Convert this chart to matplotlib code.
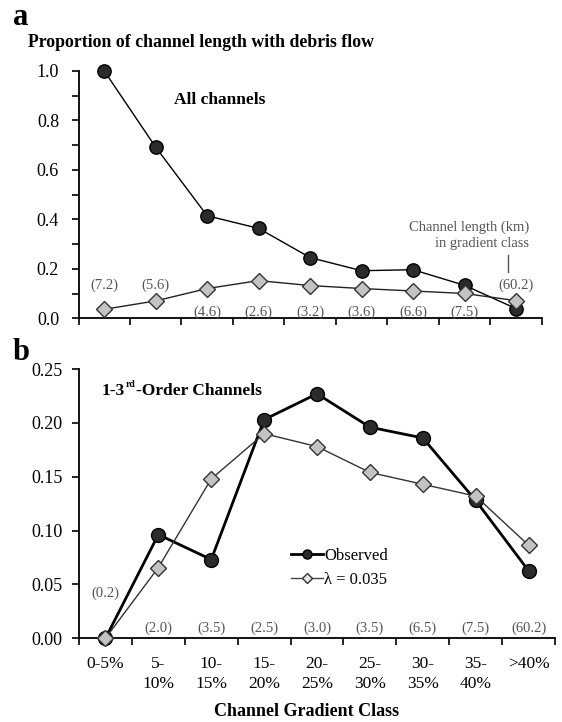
import matplotlib
matplotlib.use("Agg")
import matplotlib.pyplot as plt
from matplotlib.lines import Line2D
from matplotlib.transforms import offset_copy
import numpy as np

plt.rcParams['font.family'] = ['Liberation Serif', 'DejaVu Serif']

# gradient classes
classes = ["0-5%", "5-\n10%", "10-\n15%", "15-\n20%", "20-\n25%",
           "25-\n30%", "30-\n35%", "35-\n40%", ">40%"]

# panel a - all channels
obs_all = [1.0, 0.692, 0.415, 0.364, 0.246, 0.193, 0.197, 0.134, 0.040]
mod_all = [0.037, 0.071, 0.121, 0.153, 0.133, 0.121, 0.111, 0.101, 0.072]
len_all = ["(7.2)", "(5.6)", "(4.6)", "(2.6)", "(3.2)", "(3.6)", "(6.6)", "(7.5)", "(60.2)"]

# panel b - 1-3rd order channels
obs_low = [0.0, 0.0963, 0.0731, 0.203, 0.227, 0.196, 0.186, 0.128, 0.0627]
mod_low = [0.0, 0.0657, 0.148, 0.190, 0.178, 0.154, 0.143, 0.132, 0.0864]
len_low = ["(0.2)", "(2.0)", "(3.5)", "(2.5)", "(3.0)", "(3.5)", "(6.5)", "(7.5)", "(60.2)"]

x = np.arange(len(classes)) + 0.5
gray_txt = '#555555'
dark = '#2b2b2b'
light = '#c3c3c3'

fig = plt.figure(figsize=(5.62, 7.22), dpi=100)


def style_axes(ax, ymax, major, minor, fmt, pad):
    ax.set_xlim(0, len(classes))
    ax.set_ylim(0, ymax)
    for s in ['top', 'right']:
        ax.spines[s].set_visible(False)
    for s in ['left', 'bottom']:
        ax.spines[s].set_linewidth(1.3)
    ax.set_xticks(np.arange(len(classes) + 1))
    ax.set_xticklabels([])
    ax.set_yticks(np.arange(0, ymax + 1e-9, major))
    ax.set_yticklabels([fmt.format(v) for v in np.arange(0, ymax + 1e-9, major)])
    if minor:
        ax.set_yticks(np.arange(0, ymax + 1e-9, minor), minor=True)
    ax.tick_params(axis='both', which='both', direction='out', length=5, width=1.2)
    ax.tick_params(axis='y', labelsize=13, pad=pad)


# ---- panel a
ax1 = fig.add_axes([0.1397, 0.5589, 0.8242, 0.3428])
style_axes(ax1, 1.0, 0.2, 0.1, "{:.1f}", 9)
ax1.plot(x, obs_all, '-o', color='black', lw=1.0, ms=9.6, mfc=dark, mec='black',
         mew=1.0, clip_on=False, zorder=3)
ax1.plot(x, mod_all, '-D', color='#222222', lw=1.0, ms=8.2, mfc=light, mec='#333333',
         mew=1.0, clip_on=False, zorder=4)
for i, lab in enumerate(len_all):
    yy = 0.133 if i in (0, 1, 8) else 0.027
    ax1.text(x[i], yy, lab, ha='center', va='center', fontsize=10.5, color=gray_txt)
ax1.text(1.85, 0.882, "All channels", fontsize=12.5, fontweight='bold', va='center')
ax1.text(8.75, 0.370, "Channel length (km)", fontsize=10.5, color=gray_txt,
         ha='right', va='center')
ax1.text(8.75, 0.304, "in gradient class", fontsize=10.5, color=gray_txt,
         ha='right', va='center')
ax1.plot([8.35, 8.35], [0.257, 0.189], color=gray_txt, lw=1.0)

# ---- panel b
ax2 = fig.add_axes([0.1406, 0.1159, 0.847, 0.373])
style_axes(ax2, 0.25, 0.05, None, "{:.2f}", 7)
ax2.plot(x, obs_low, '-o', color='black', lw=2.0, ms=10, mfc=dark, mec='black',
         mew=1.0, clip_on=False, zorder=3)
ax2.plot(x, mod_low, '-D', color='#333333', lw=1.0, ms=8.2, mfc=light, mec='#333333',
         mew=1.0, clip_on=False, zorder=4)
ax2.set_xticks(x, minor=True)
ax2.set_xticklabels(classes, minor=True, fontsize=12.5, linespacing=1.3, va='top')
ax2.tick_params(axis='x', which='minor', length=0, pad=13)
for i, lab in enumerate(len_low):
    yy = 0.0417 if i == 0 else 0.0093
    ax2.text(x[i], yy, lab, ha='center', va='center', fontsize=10.5, color=gray_txt)

# panel label with a small superscript, built from pieces
fig.canvas.draw()
rend = fig.canvas.get_renderer()
t1 = ax2.text(0.43, 0.226, "1-3", fontsize=12.5, fontweight='bold', va='baseline')
w1 = t1.get_window_extent(rend).width * 72 / fig.dpi
t2 = ax2.text(0.43, 0.226, "rd", fontsize=7, fontweight='bold', va='baseline',
              transform=offset_copy(ax2.transData, fig=fig, x=w1 + 0.3, y=5.5, units='points'))
w2 = t2.get_window_extent(rend).width * 72 / fig.dpi
ax2.text(0.43, 0.226, "-Order Channels", fontsize=12.5, fontweight='bold', va='baseline',
         transform=offset_copy(ax2.transData, fig=fig, x=w1 + w2 + 0.6, y=0, units='points'))

handles = [
    Line2D([], [], color='black', lw=2.0, marker='o', ms=6.5, mfc=dark, mec='black'),
    Line2D([], [], color='#444444', lw=1.0, marker='D', ms=5, mfc='#e6e6e6', mec='#333333'),
]
ax2.legend(handles, ["Observed", "\u03bb = 0.035"], loc='upper left',
           bbox_to_anchor=(0.445, 0.335), frameon=False, fontsize=12,
           handlelength=1.9, handletextpad=0.1, borderpad=0, borderaxespad=0,
           labelspacing=0.45)

fig.text(13 / 562, 1 - 25 / 722, "a", fontsize=22, fontweight='bold', va='baseline')
fig.text(13 / 562, 1 - 360 / 722, "b", fontsize=22, fontweight='bold', va='baseline')
fig.text(28 / 562, 1 - 47 / 722, "Proportion of channel length with debris flow",
         fontsize=12.8, fontweight='bold', va='baseline')
fig.text(0.545, 1 - 711.7 / 722, "Channel Gradient Class", fontsize=13,
         fontweight='bold', ha='center', va='center')

fig.savefig("out.png", dpi=100)
